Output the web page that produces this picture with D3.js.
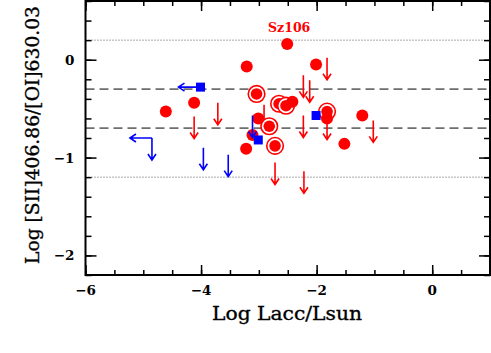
<!DOCTYPE html>
<html>
<head>
<meta charset="utf-8">
<script src="https://cdn.jsdelivr.net/npm/d3@7"></script>
<style>
  body { margin: 0; background: #fff; }
  text { font-family: "DejaVu Serif", serif; }
</style>
</head>
<body>
<div id="chart"></div>
<script>
// Data (log Lacc/Lsun, log ratio)
var redDots = [
  [-2.51, 0.16], [-3.21, -0.07], [-2.01, -0.05], [-4.61, -0.53], [-4.12, -0.44],
  [-3.22, -0.91], [-3.11, -0.77], [-3.01, -0.60], [-2.42, -0.43], [-1.82, -0.60],
  [-1.21, -0.57], [-1.52, -0.86]
];
var redRinged = [
  [-3.04, -0.35], [-2.65, -0.45], [-2.53, -0.47], [-2.82, -0.68], [-2.72, -0.88], [-1.82, -0.53]
];
var redUpper = [
  [-4.12, -0.58], [-3.71, -0.44], [-2.91, -0.46], [-2.23, -0.16], [-2.12, -0.21],
  [-1.82, 0.02], [-2.23, -0.57], [-1.82, -0.59], [-1.02, -0.62], [-2.72, -1.05], [-2.22, -1.14]
];
var blueSquares = [[-4.01, -0.28], [-3.01, -0.82], [-2.01, -0.57]];
var blueUpper = [[-3.96, -0.90], [-3.53, -0.97], [-3.11, -0.57]];
var blueLeft = [[-4.01, -0.28]];
var blueCorner = [[-4.85, -0.80]];
var dottedLevels = [0.2, -1.2];
var dashedLevels = [-0.3, -0.7];
var xTicks = [-6, -4, -2, 0];
var yTicks = [0, -1, -2];
var label = {name: "Sz106", x: -2.51, y: 0.16};

var W = 491, H = 353;
var mL = 85.5, mR = 490, mT = 1, mB = 275;
var svg = d3.select("#chart").append("svg").attr("width", W).attr("height", H);

var x = d3.scaleLinear().domain([-6, 1]).range([mL, mR]);
var y = d3.scaleLinear().domain([-2.2, 0.6]).range([mB, mT]);

var red = "#ff0000", blue = "#0000ff";

// reference lines
svg.selectAll(".dot-line").data(dottedLevels).enter().append("line")
  .attr("x1", mL).attr("x2", mR)
  .attr("y1", function(d) { return y(d); }).attr("y2", function(d) { return y(d); })
  .attr("stroke", "#555").attr("stroke-width", 1).attr("stroke-dasharray", "1,2");
svg.selectAll(".dash-line").data(dashedLevels).enter().append("line")
  .attr("x1", mL).attr("x2", mR)
  .attr("y1", function(d) { return y(d); }).attr("y2", function(d) { return y(d); })
  .attr("stroke", "#6e6e6e").attr("stroke-width", 1.7).attr("stroke-dasharray", "9,5");

// axes, ticks pointing inward on all four sides
var xMinor = d3.range(-6, 1.01, 0.5);
var yMinor = d3.range(-2.2, 0.61, 0.2).map(function(d) { return +d.toFixed(1); });
function ticks(gen, tr, scale, vals, size) {
  svg.append("g").attr("transform", tr)
    .call(gen(scale).tickValues(vals).tickSize(size).tickFormat(""));
}
ticks(d3.axisTop, "translate(0," + mB + ")", x, xMinor, 5);
ticks(d3.axisTop, "translate(0," + mB + ")", x, xTicks, 10);
ticks(d3.axisBottom, "translate(0," + mT + ")", x, xMinor, 5);
ticks(d3.axisBottom, "translate(0," + mT + ")", x, xTicks, 10);
ticks(d3.axisRight, "translate(" + mL + ",0)", y, yMinor, 6);
ticks(d3.axisRight, "translate(" + mL + ",0)", y, yTicks, 11);
ticks(d3.axisLeft, "translate(" + mR + ",0)", y, yMinor, 6);
ticks(d3.axisLeft, "translate(" + mR + ",0)", y, yTicks, 11);
svg.selectAll(".domain").remove();
svg.selectAll(".tick line").attr("stroke", "#000").attr("stroke-width", 1.5);

// frame
svg.append("rect").attr("x", mL).attr("y", mT).attr("width", mR - mL).attr("height", mB - mT)
  .attr("fill", "none").attr("stroke", "#000").attr("stroke-width", 2);

// tick labels
function fmt(d) { return d < 0 ? "\u2212" + (-d) : "" + d; }
svg.selectAll(".xl").data(xTicks).enter().append("text")
  .attr("x", function(d) { return x(d); }).attr("y", mB + 20)
  .attr("text-anchor", "middle").attr("font-size", 13.5).attr("font-weight", "bold")
  .text(fmt);
svg.selectAll(".yl").data(yTicks).enter().append("text")
  .attr("x", mL - 11).attr("y", function(d) { return y(d) + 5; })
  .attr("text-anchor", "end").attr("font-size", 13.5).attr("font-weight", "bold")
  .text(fmt);

// axis titles
svg.append("text").attr("x", 287).attr("y", 320).attr("text-anchor", "middle")
  .attr("font-size", 19).attr("stroke", "#000").attr("stroke-width", 0.35)
  .attr("textLength", 150).attr("lengthAdjust", "spacingAndGlyphs")
  .text("Log Lacc/Lsun");
svg.append("text").attr("transform", "translate(39,135) rotate(-90)")
  .attr("text-anchor", "middle").attr("font-size", 18).attr("stroke", "#000").attr("stroke-width", 0.35)
  .attr("textLength", 258).attr("lengthAdjust", "spacingAndGlyphs")
  .text("Log [SII]406.86/[OI]630.03");

// limit arrows: down (upper limit in y) or left (upper limit in x)
var L = 22, hw = 4, hh = 6;
function downArrow(g, px, py, color) {
  g.append("path")
    .attr("d", "M" + px + "," + py + "V" + (py + L) + "M" + (px - hw) + "," + (py + L - hh) + "L" + px + "," + (py + L) + "L" + (px + hw) + "," + (py + L - hh))
    .attr("fill", "none").attr("stroke", color).attr("stroke-width", 1.6);
}
function leftArrow(g, px, py, color) {
  g.append("path")
    .attr("d", "M" + px + "," + py + "H" + (px - L) + "M" + (px - L + hh) + "," + (py - hw) + "L" + (px - L) + "," + py + "L" + (px - L + hh) + "," + (py + hw))
    .attr("fill", "none").attr("stroke", color).attr("stroke-width", 1.6);
}

var marks = svg.append("g");
redUpper.forEach(function(d) { downArrow(marks, x(d[0]), y(d[1]), red); });

redRinged.forEach(function(d) {
  marks.append("circle").attr("cx", x(d[0])).attr("cy", y(d[1])).attr("r", 8.3)
    .attr("fill", "#fff").attr("stroke", red).attr("stroke-width", 1.6);
  marks.append("circle").attr("cx", x(d[0])).attr("cy", y(d[1])).attr("r", 5.8).attr("fill", red);
});

marks.selectAll(".rd").data(redDots).enter().append("circle")
  .attr("cx", function(d) { return x(d[0]); }).attr("cy", function(d) { return y(d[1]); })
  .attr("r", 6).attr("fill", red);

blueLeft.forEach(function(d) { leftArrow(marks, x(d[0]), y(d[1]), blue); });
blueUpper.forEach(function(d) { downArrow(marks, x(d[0]), y(d[1]), blue); });
blueCorner.forEach(function(d) {
  leftArrow(marks, x(d[0]), y(d[1]), blue);
  downArrow(marks, x(d[0]), y(d[1]), blue);
});
marks.selectAll(".bs").data(blueSquares).enter().append("rect")
  .attr("x", function(d) { return x(d[0]) - 4.5; }).attr("y", function(d) { return y(d[1]) - 4.5; })
  .attr("width", 9).attr("height", 9).attr("fill", blue);

// label
svg.append("text").attr("x", x(label.x) + 2).attr("y", y(label.y) - 12)
  .attr("text-anchor", "middle").attr("font-size", 12.5).attr("font-weight", "bold")
  .attr("fill", red).text(label.name);
</script>
</body>
</html>
